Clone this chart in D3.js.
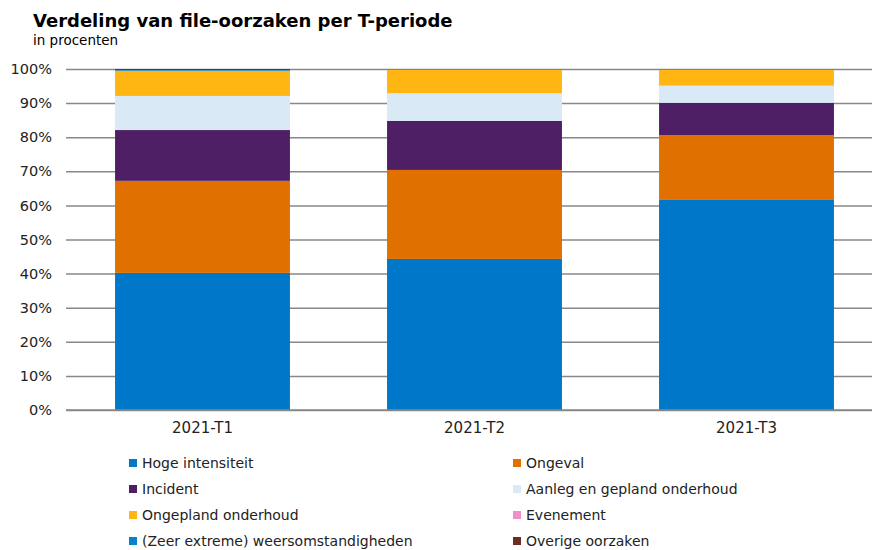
<!DOCTYPE html>
<html>
<head>
<meta charset="utf-8">
<script src="https://d3js.org/d3.v7.min.js"></script>
<style>
  body { margin: 0; background: #fff; }
  .title { font-family: 'DejaVu Sans', Verdana, sans-serif; font-weight: bold; font-size: 18px; fill: #000; }
  .subtitle { font-family: 'DejaVu Sans', Verdana, sans-serif; font-size: 13.5px; fill: #000; }
  .y-axis text { font-family: 'DejaVu Sans', Verdana, sans-serif; font-size: 14.5px; fill: #222; }
  .x-axis text { font-family: 'DejaVu Sans', Verdana, sans-serif; font-size: 15px; fill: #222; }
  .y-axis path, .x-axis path { display: none; }
  .y-axis line { stroke: #888; stroke-width: 1.5; }
  .x-axis line { display: none; }
  .legend text { font-family: 'DejaVu Sans', Verdana, sans-serif; font-size: 14px; fill: #222; }
</style>
</head>
<body>
<script>
// Data (percent per period)
var periods = ["2021-T1", "2021-T2", "2021-T3"];
var causes = ["Hoge intensiteit", "Ongeval", "Incident", "Aanleg en gepland onderhoud",
  "Ongepland onderhoud", "Evenement", "(Zeer extreme) weersomstandigheden", "Overige oorzaken"];
var colors = ["#0077c8", "#e07000", "#4f1f66", "#d9eaf6", "#ffb612", "#f090c8", "#0a80c8", "#6b2d22"];
var hoge       = [40.2, 44.3, 61.6];
var ongeval    = [27.0, 26.1, 19.0];
var incident   = [14.9, 14.4, 9.5];
var aanleg     = [10.0, 8.1, 5.0];
var ongepland  = [7.4, 7.0, 4.8];
var evenement  = [0.0, 0.0, 0.0];
var weer       = [0.2, 0.0, 0.0];
var overige    = [0.3, 0.1, 0.1];
var yTicks = [0, 10, 20, 30, 40, 50, 60, 70, 80, 90, 100];

var series = [hoge, ongeval, incident, aanleg, ongepland, evenement, weer, overige];

var W = 873, H = 550;
var svg = d3.select("body").append("svg").attr("width", W).attr("height", H);

svg.append("text").attr("class", "title").attr("x", 33).attr("y", 27)
  .text("Verdeling van file-oorzaken per T-periode");
svg.append("text").attr("class", "subtitle").attr("x", 33).attr("y", 45)
  .text("in procenten");

var x = d3.scaleBand().domain(periods).range([66.5, 882.5]).paddingInner(0.357).paddingOuter(0.1785);
var y = d3.scaleLinear().domain([0, 100]).range([410, 69]);

// gridlines + y labels
svg.append("g").attr("class", "y-axis").attr("transform", "translate(66,0)")
  .call(d3.axisLeft(y).tickValues(yTicks).tickFormat(d => d + "%").tickSize(-(872 - 66)).tickPadding(14));

// table for stacking
var table = periods.map(function (p, i) {
  var row = { period: p };
  causes.forEach(function (c, j) { row[c] = series[j][i]; });
  return row;
});
var stack = d3.stack().keys(causes)(table);

svg.append("g").selectAll("g")
  .data(stack)
  .enter().append("g")
  .attr("fill", (d, i) => colors[i])
  .selectAll("rect")
  .data(d => d)
  .enter().append("rect")
  .attr("x", d => x(d.data.period))
  .attr("width", x.bandwidth())
  .attr("y", d => y(d[1]))
  .attr("height", d => y(d[0]) - y(d[1]));

// baseline
svg.append("line").attr("x1", 66).attr("x2", 872).attr("y1", y(0)).attr("y2", y(0))
  .attr("stroke", "#888").attr("stroke-width", 1.5);

svg.append("g").attr("class", "x-axis").attr("transform", "translate(0,410)")
  .call(d3.axisBottom(x).tickSize(0).tickPadding(12));

// legend
var leg = svg.append("g").attr("class", "legend");
causes.forEach(function (c, i) {
  var col = i % 2, row = Math.floor(i / 2);
  var lx = col === 0 ? 129 : 513;
  var ly = 463 + row * 26;
  leg.append("rect").attr("x", lx).attr("y", ly - 4).attr("width", 8).attr("height", 8).attr("fill", colors[i]);
  leg.append("text").attr("x", lx + 13).attr("y", ly + 5).text(c);
});
</script>
</body>
</html>
